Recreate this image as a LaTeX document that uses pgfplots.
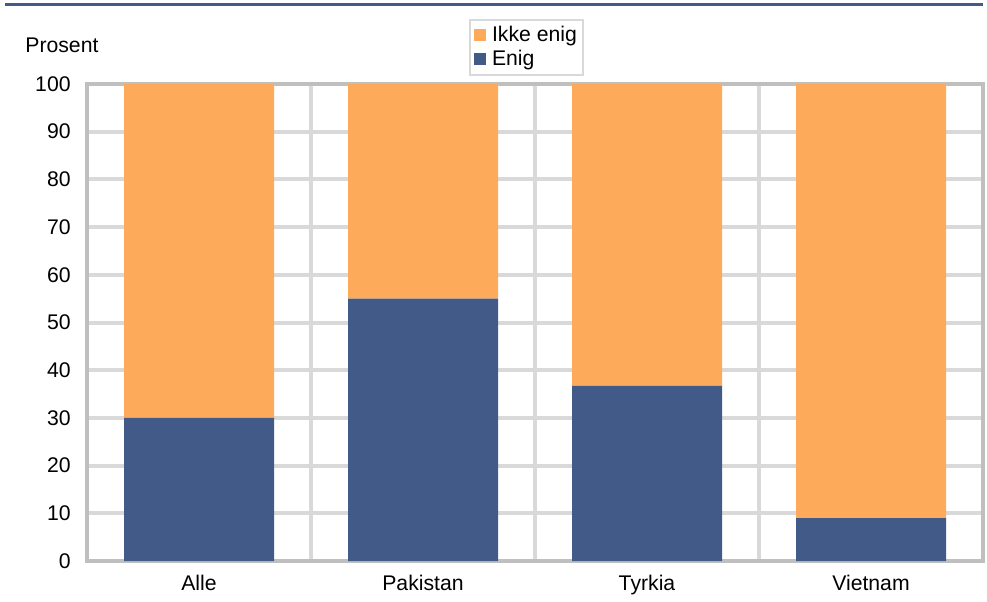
\documentclass[border=0pt]{standalone}
\usepackage{fontspec}
\setmainfont{Liberation Sans}
\usepackage{pgfplots}
\pgfplotsset{compat=1.18}
\definecolor{orng}{HTML}{FDAA5B}
\definecolor{blu}{HTML}{425A87}
\definecolor{gridc}{HTML}{D9D9D9}
\definecolor{axc}{HTML}{BFBFBF}
\begin{document}
\begin{tikzpicture}
\useasboundingbox (0,0) rectangle (493.5pt,300.5pt);
\draw[blu, line width=1.5pt] (2.5pt,298pt) -- (491.5pt,298pt);
\node[anchor=west, font=\fontsize{10.6}{12}\selectfont, inner sep=0pt] at (12.5pt,278pt) {Prosent};
\begin{axis}[
 at={(43.5pt,20pt)}, anchor=south west, scale only axis, width=448pt, height=238.5pt,
 xmin=-0.5, xmax=3.5, ymin=0, ymax=100,
 ybar stacked, bar width=75pt,
 xtick={0,1,2,3}, xticklabels={Alle,Pakistan,Tyrkia,Vietnam},
 minor xtick={0.5,1.5,2.5},
 ytick={0,10,...,100},
 ymajorgrids, xminorgrids,
 major grid style={gridc, line width=2pt},
 minor grid style={gridc, line width=2pt},
 axis line style={axc, line width=2pt},
 major tick length=0pt, minor tick length=0pt,
 tick label style={font=\fontsize{10.6}{12}\selectfont, inner sep=0pt, text=black},
 /pgf/number format/assume math mode=true,
 yticklabel style={xshift=-8pt},
 xticklabel style={yshift=-7pt},
 legend style={at={(0.491,1.137)}, anchor=north, draw=gridc, line width=1pt,
   font=\fontsize{10.6}{12}\selectfont, legend cell align=left, inner sep=2pt,
   /tikz/every odd column/.append style={column sep=1.5pt},
   nodes={inner sep=1.3pt}},
 legend image code/.code={\path[#1] (0pt,-3pt) rectangle (6pt,3pt);},
 reverse legend,
]
\addplot[fill=blu, draw=none] coordinates {(0,30) (1,55) (2,36.7) (3,9)};
\addlegendentry{Enig}
\addplot[fill=orng, draw=none] coordinates {(0,70) (1,45) (2,63.3) (3,91)};
\addlegendentry{Ikke enig}
\end{axis}
\end{tikzpicture}
\end{document}
